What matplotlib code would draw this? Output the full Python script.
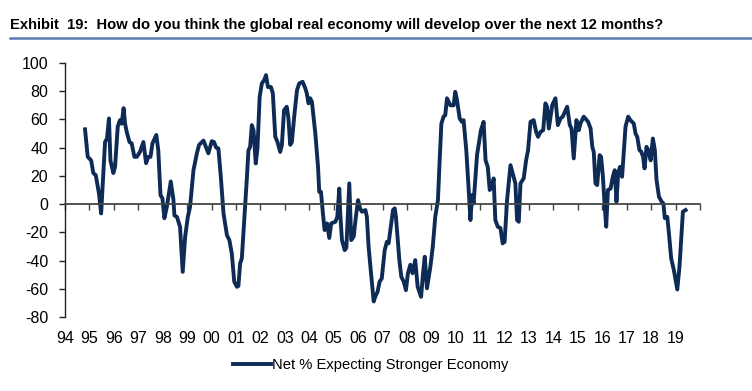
import matplotlib
matplotlib.use('Agg')
import matplotlib.pyplot as plt
from matplotlib.lines import Line2D

plt.rcParams['font.family'] = ['Liberation Sans Narrow', 'Liberation Sans', 'DejaVu Sans']

# net % expecting stronger economy (decimal years)
dates = [1994.82, 1994.93, 1995.07, 1995.16, 1995.26, 1995.39, 1995.48, 1995.64, 1995.72, 1995.80,
         1995.86, 1995.98, 1996.05, 1996.16, 1996.25, 1996.32, 1996.40, 1996.46, 1996.53, 1996.64,
         1996.73, 1996.84, 1996.94, 1997.07, 1997.21, 1997.32, 1997.41, 1997.50, 1997.58, 1997.74,
         1997.82, 1997.91, 1997.99, 1998.07, 1998.17, 1998.33, 1998.44, 1998.48, 1998.58, 1998.71,
         1998.82, 1998.92, 1999.03, 1999.12, 1999.26, 1999.40, 1999.49, 1999.67, 1999.87, 2000.01,
         2000.10, 2000.19, 2000.28, 2000.38, 2000.49, 2000.63, 2000.73, 2000.83, 2000.93, 2001.04,
         2001.10, 2001.17, 2001.24, 2001.34, 2001.45, 2001.51, 2001.58, 2001.65, 2001.72, 2001.81,
         2001.88, 2001.97, 2002.06, 2002.16, 2002.23, 2002.31, 2002.43, 2002.51, 2002.61, 2002.70,
         2002.81, 2002.88, 2002.97, 2003.08, 2003.15, 2003.22, 2003.29, 2003.39, 2003.50, 2003.59,
         2003.73, 2003.84, 2003.90, 2003.97, 2004.04, 2004.11, 2004.25, 2004.36, 2004.41, 2004.48,
         2004.56, 2004.63, 2004.73, 2004.82, 2004.90, 2005.07, 2005.15, 2005.23, 2005.27, 2005.34,
         2005.45, 2005.52, 2005.64, 2005.72, 2005.82, 2005.91, 2006.00, 2006.08, 2006.16, 2006.30,
         2006.36, 2006.43, 2006.53, 2006.64, 2006.70, 2006.80, 2006.88, 2006.97, 2007.09, 2007.18,
         2007.25, 2007.43, 2007.50, 2007.55, 2007.69, 2007.77, 2007.87, 2007.96, 2008.04, 2008.14,
         2008.23, 2008.34, 2008.44, 2008.58, 2008.66, 2008.73, 2008.82, 2008.96, 2009.06, 2009.16,
         2009.27, 2009.34, 2009.41, 2009.50, 2009.57, 2009.64, 2009.78, 2009.91, 2009.98, 2010.05,
         2010.16, 2010.25, 2010.32, 2010.43, 2010.53, 2010.60, 2010.67, 2010.73, 2010.87, 2011.03,
         2011.14, 2011.22, 2011.31, 2011.39, 2011.49, 2011.55, 2011.62, 2011.72, 2011.83, 2011.92,
         2012.00, 2012.10, 2012.24, 2012.37, 2012.44, 2012.51, 2012.58, 2012.65, 2012.78, 2012.88,
         2012.96, 2013.06, 2013.19, 2013.29, 2013.37, 2013.47, 2013.58, 2013.67, 2013.74, 2013.81,
         2013.95, 2014.08, 2014.18, 2014.29, 2014.38, 2014.56, 2014.67, 2014.74, 2014.83, 2014.94,
         2015.04, 2015.10, 2015.24, 2015.42, 2015.52, 2015.59, 2015.65, 2015.72, 2015.79, 2015.89,
         2015.95, 2016.02, 2016.09, 2016.16, 2016.23, 2016.34, 2016.43, 2016.51, 2016.58, 2016.65,
         2016.72, 2016.81, 2016.95, 2017.06, 2017.15, 2017.29, 2017.36, 2017.43, 2017.52, 2017.60,
         2017.67, 2017.73, 2017.81, 2017.88, 2017.98, 2018.07, 2018.15, 2018.22, 2018.32, 2018.43,
         2018.50, 2018.56, 2018.66, 2018.73, 2018.82, 2018.93, 2019.07, 2019.16, 2019.30, 2019.41]
net_pct = [53, 33.5, 31, 22, 20.5, 7.6, -6.6, 44, 46.5, 60.7,
           31, 22, 26.5, 55, 59.5, 57, 68, 57, 51, 44,
           43, 33.5, 33.5, 37, 44, 29, 33.5, 33.5, 43, 49,
           38, 6.4, 4, -10, -2, 16, 3, -8, -9, -16,
           -48, -23, -9, -2, 24, 36, 42, 45, 36, 44.6,
           44, 40, 39.5, 19.4, -6.6, -22, -25.5, -35, -55, -58.6,
           -58, -42, -38.5, -11, 19.4, 38, 40.6, 56, 52.4, 28.8,
           39.5, 76, 85.5, 88, 91.4, 83, 83, 78.5, 47.7, 44,
           37, 42, 66.6, 69, 60.7, 42, 44, 63, 80.8, 85.5,
           86.7, 82, 78.5, 71.4, 75, 72.5, 50, 26.4, 8.7, 8.7,
           -6.6, -18.4, -13.7, -24, -13.7, -12.5, -9, 11, -6.6, -25.5,
           -32.6, -31, 14.7, -25.5, -23, -9, 2.8, -3, -5.4, -4.2,
           -9, -30, -49, -69, -65.7, -62, -55, -52.7, -32.6, -26.7,
           -27.8, -4.2, -3, -9, -39.7, -51.5, -55, -61, -49, -43,
           -49, -39.7, -58.6, -65.7, -49, -37.3, -59.7, -44.4, -30, -9,
           2.8, 31, 57, 62, 63, 75, 70, 70, 79.6, 73.7,
           60.7, 58.3, 59.5, 38.3, 10, -11.3, 6.4, 0.5, 34.7, 52.4,
           58.3, 31, 26.4, 10, 12.3, 18.2, -11.3, -16, -17, -27.8,
           -26.7, 2.8, 27.6, 19.4, 14.7, -11.3, -12.5, 14.7, 18.2, 31,
           38.3, 58.3, 59.5, 51.2, 47.7, 51.2, 52.4, 71.4, 69, 53.6,
           70.2, 75, 56, 60.7, 62, 69, 56, 53.6, 32.4, 59.5,
           52.4, 57, 62, 58.3, 53.6, 40.6, 37, 14.7, 13.5, 34.7,
           33.5, 20.5, 0.5, -16, 10, 11, 19.4, 24, 1.7, 21.7,
           26.4, 19.4, 54.8, 62, 59.5, 57, 50, 47.7, 38.3, 37,
           33.5, 25.3, 40.6, 38.3, 31, 46.5, 38.3, 17, 5.2, 1.7,
           0.5, -10, -9, -21, -38.5, -46.8, -60.5, -44.4, -5.4, -4.2]

years = list(range(1994, 2021))
year_labels = ['94', '95', '96', '97', '98', '99', '00', '01', '02', '03', '04', '05', '06',
               '07', '08', '09', '10', '11', '12', '13', '14', '15', '16', '17', '18', '19']
yticks = [-80, -60, -40, -20, 0, 20, 40, 60, 80, 100]

navy = '#0d2b55'

fig = plt.figure(figsize=(7.52, 3.91), dpi=100)
ax = fig.add_axes([65/752, 1-317/391, 635/752, 254/391])

ax.plot(dates, net_pct, color=navy, lw=2.8, solid_joinstyle='round',
        label='Net % Expecting Stronger Economy')

ax.set_xlim(1994, 2020)
ax.set_ylim(-80, 100)
ax.set_yticks(yticks)
ax.set_yticklabels([str(v) for v in yticks], fontsize=11.5)

ax.spines['top'].set_visible(False)
ax.spines['right'].set_visible(False)
ax.spines['left'].set_color('#222222')
ax.spines['left'].set_linewidth(1.0)
ax.spines['bottom'].set_position(('data', 0))
ax.spines['bottom'].set_color('#444444')
ax.spines['bottom'].set_linewidth(1.3)
ax.set_xticks(years)
ax.tick_params(axis='x', direction='out', length=4, width=1, color='#444444', labelbottom=False)
ax.tick_params(axis='y', direction='out', length=4, width=1, color='#222222', pad=8)

# year labels sit below the plot, not on the zero line
for yr, lab in zip(years, year_labels):
    ax.text(yr, -0.083, lab, transform=ax.get_xaxis_transform(), ha='center', va='center',
            fontsize=11.5)

fig.text(10/752, 1-25/391, 'Exhibit  19:  How do you think the global real economy will develop over the next 12 months?',
         fontsize=10.6, fontweight='bold', va='center', ha='left')
fig.add_artist(Line2D([10/752, 1.0], [1-38/391, 1-38/391], color='#5b7bae', lw=1.8))

ax.legend(loc='center left', bbox_to_anchor=(233/752, 1-365/391), bbox_transform=fig.transFigure,
          frameon=False, fontsize=10.6, handlelength=2.6, handletextpad=0.05, borderpad=0,
          borderaxespad=0)

fig.savefig('out.png', dpi=100)
